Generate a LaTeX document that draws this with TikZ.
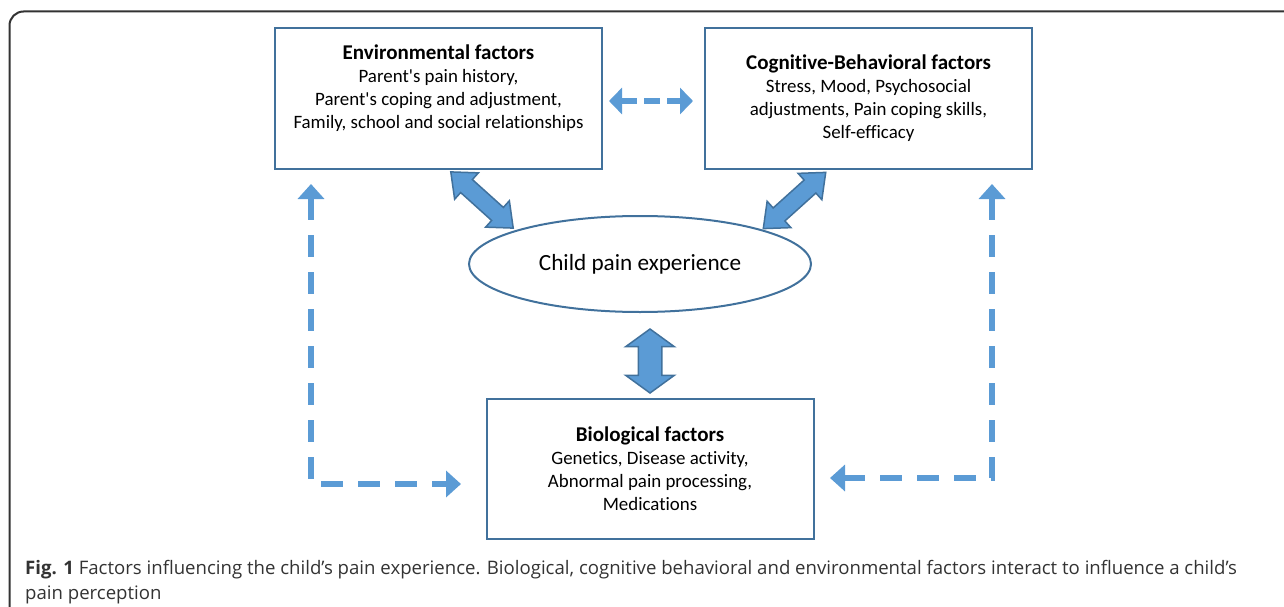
\documentclass[tikz,border=0pt]{standalone}
\usepackage{fontspec}
\setmainfont{Carlito}[Ligatures=NoCommon]
\newfontfamily\captionfont{Open Sans}
\usetikzlibrary{positioning,arrows.meta,shapes.geometric,shapes.arrows}
\definecolor{boxblue}{HTML}{41719C}
\definecolor{arrowblue}{HTML}{5B9BD5}
\definecolor{framegray}{HTML}{333333}
\newcommand{\factortitle}[1]{{\fontsize{21}{23}\selectfont\bfseries #1}}
\tikzstyle{factor}=[draw=boxblue, line width=2pt, minimum width=327pt, minimum height=140pt, align=center, font=\fontsize{18.9}{23}\selectfont]
\tikzstyle{painnode}=[ellipse, draw=boxblue, line width=2pt, minimum width=342pt, minimum height=96pt, font=\fontsize{23.2}{27}\selectfont]
\tikzstyle{bigarrow}=[double arrow, draw=boxblue, fill=arrowblue, line width=1.5pt, inner xsep=0pt]
\tikzstyle{dasharrow}=[draw=arrowblue, line width=6pt, dash pattern=on 22pt off 15pt, >={Triangle[length=15pt,width=26pt]}, <->]
\tikzstyle{dashboth}=[draw=arrowblue, line width=6pt, dash pattern=on 16pt off 7pt, >={Triangle[length=13pt,width=26pt]}, <->]

\begin{document}
\begin{tikzpicture}[x=1pt, y=-1pt, node distance=101pt]
	\useasboundingbox (0,0) rectangle (1284,607);
	\draw[framegray, line width=2pt, rounded corners=14pt] (9.5,620) -- (9.5,11.5) -- (1300,11.5);
	\node[factor] (env) at (438.5,98.5) {\factortitle{Environmental factors}\\Parent\textquotesingle s pain history,\\Parent\textquotesingle s coping and adjustment,\\Family, school and social relationships\\ \mbox{}};
	\node[factor, right=of env] (cog) {\factortitle{Cognitive-Behavioral factors}\\Stress, Mood, Psychosocial\\adjustments, Pain coping skills,\\Self-efficacy};
	\node[painnode] (child) at (640,264) {Child pain experience};
	\node[factor] (bio) at (650,468.5) {\factortitle{Biological factors}\\Genetics, Disease activity,\\Abnormal pain processing,\\Medications};
	\node[bigarrow, rotate=-42, minimum height=84pt, inner ysep=8pt, double arrow head extend=9pt, double arrow tip angle=80] (envlink) at (482,200) {};
	\node[bigarrow, rotate=42, minimum height=84pt, inner ysep=8pt, double arrow head extend=9pt, double arrow tip angle=80] (coglink) at (794.5,200.5) {};
	\node[bigarrow, rotate=90, minimum height=64pt, inner ysep=11pt, double arrow head extend=12.5pt, double arrow tip angle=108] (biolink) at (650,361) {};
	\coordinate (envfoot) at (311,184);
	\coordinate (cogfoot) at (992,184);
	\coordinate (bioleft) at (461,484);
	\coordinate (bioright) at (830,478);
	\draw[dashboth] ([xshift=6pt, yshift=-2.5pt]env.east) -- ([xshift=-11pt, yshift=-2.5pt]cog.west);
	\draw[dasharrow] (envfoot) |- (bioleft);
	\draw[dasharrow] (cogfoot) |- (bioright);
	\node[anchor=north west, align=left, inner sep=0pt, text=framegray, font=\captionfont\fontsize{18.6}{25}\selectfont] (caption) at (25,560) {\textbf{Fig. 1} Factors influencing the child’s pain experience. Biological, cognitive behavioral and environmental factors interact to influence a child’s\\pain perception};
\end{tikzpicture}
\end{document}
